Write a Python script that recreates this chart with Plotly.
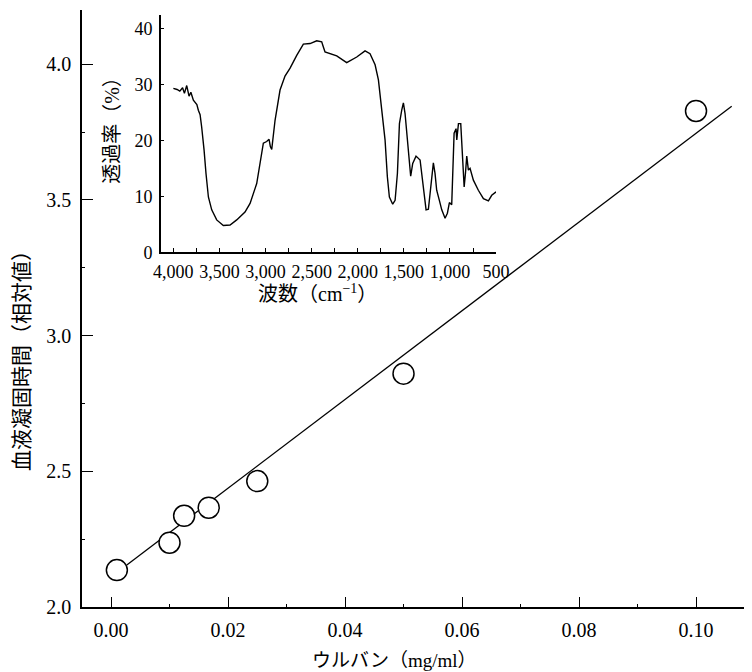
import plotly.graph_objects as go

# Main chart data
conc = [0.001, 0.010, 0.0125, 0.0167, 0.025, 0.050, 0.100]
clot_time = [2.136, 2.237, 2.336, 2.366, 2.464, 2.86, 3.828]
fit_x = [0.0027, 0.1061]
fit_y = [2.155, 3.845]

x_ticks = [0.00, 0.02, 0.04, 0.06, 0.08, 0.10]
x_ticklabels = ["0.00", "0.02", "0.04", "0.06", "0.08", "0.10"]
y_ticks = [2.0, 2.5, 3.0, 3.5, 4.0]
y_ticklabels = ["2.0", "2.5", "3.0", "3.5", "4.0"]

# Inset IR spectrum data
wavenumber = [4000, 3960, 3930, 3900, 3880, 3855, 3830, 3810, 3783, 3760, 3745, 3729,
              3710, 3693, 3680, 3667, 3646, 3620, 3584, 3530, 3458, 3385, 3313, 3223,
              3168, 3096, 3024, 2988, 2962, 2948, 2933, 2897, 2843, 2789, 2734, 2662,
              2590, 2517, 2445, 2391, 2373, 2355, 2228, 2120, 2011, 1921, 1867, 1812,
              1776, 1740, 1704, 1679, 1657, 1621, 1595, 1570, 1548, 1523, 1505, 1487,
              1462, 1440, 1426, 1404, 1368, 1324, 1306, 1277, 1259, 1234, 1209, 1180,
              1162, 1144, 1115, 1089, 1053, 1028, 1006, 981, 955, 934, 926, 908, 883,
              861, 846, 832, 818, 800, 782, 746, 692, 637, 583, 547, 500]
transmittance = [29.3, 29.1, 28.8, 29.4, 28.4, 29.8, 27.9, 28.6, 27.2, 26.8, 26.4, 25.4,
                 24.6, 22.4, 20.5, 18.3, 14.1, 9.9, 7.6, 5.8, 4.8, 4.9, 5.8, 7.2,
                 8.75, 12.3, 19.5, 19.8, 20.2, 18.9, 18.4, 23.6, 29.0, 31.5, 32.9, 35.2,
                 37.2, 37.3, 37.8, 37.6, 36.7, 35.8, 35.1, 33.9, 34.9, 36.0, 35.5, 33.5,
                 30.8, 25.4, 20.1, 13.5, 9.9, 8.6, 9.3, 14.1, 23.0, 25.4, 26.7, 24.8,
                 19.5, 15.3, 13.6, 15.9, 17.2, 16.5, 14.1, 9.3, 7.6, 7.7, 11.7, 16.0,
                 14.1, 11.1, 9.3, 7.6, 6.1, 7.0, 8.9, 8.5, 21.3, 22.1, 20.1, 23.0, 23.0,
                 16.5, 11.7, 14.1, 17.2, 14.7, 15.0, 12.9, 11.1, 9.6, 9.2, 10.2, 10.8]
inset_x_ticks = [4000, 3500, 3000, 2500, 2000, 1500, 1000, 500]
inset_x_ticklabels = ["4,000", "3,500", "3,000", "2,500", "2,000", "1,500", "1,000", "500"]
inset_y_ticks = [0, 10, 20, 30, 40]

FONT = "Liberation Serif, Noto Sans CJK JP, serif"

fig = go.Figure()

fig.add_trace(go.Scatter(
    x=fit_x, y=fit_y, mode="lines",
    line=dict(color="black", width=1.3),
    xaxis="x", yaxis="y", showlegend=False, hoverinfo="skip"))

fig.add_trace(go.Scatter(
    x=conc, y=clot_time, mode="markers",
    marker=dict(symbol="circle", size=21, color="white",
                line=dict(color="black", width=1.5)),
    xaxis="x", yaxis="y", showlegend=False))

fig.add_trace(go.Scatter(
    x=wavenumber, y=transmittance, mode="lines",
    line=dict(color="black", width=1.4),
    xaxis="x2", yaxis="y2", showlegend=False))

# the page body adds an 8px margin; the figure is sized to fill the rest of the window
fig.update_layout(
    width=744, height=664,
    margin=dict(l=74, r=0, t=2, b=65),
    paper_bgcolor="white", plot_bgcolor="white",
    font=dict(family=FONT, color="black", size=18),
    xaxis=dict(
        domain=[0, 1], range=[-0.00496, 0.10957], automargin=False,
        tickvals=x_ticks, ticktext=x_ticklabels,
        ticks="inside", ticklen=10, tickwidth=1.3, tickcolor="black",
        minor=dict(dtick=0.01, tick0=0, ticks="inside", ticklen=3, tickcolor="black", tickwidth=1),
        showline=True, linecolor="black", linewidth=1.5,
        showgrid=False, zeroline=False,
        ticklabelstandoff=4,
        tickfont=dict(size=20, family=FONT),
    ),
    yaxis=dict(
        domain=[0, 1], range=[2.0, 4.2], automargin=False,
        tickvals=y_ticks, ticktext=y_ticklabels,
        ticks="inside", ticklen=11, tickwidth=1.3, tickcolor="black",
        minor=dict(dtick=0.25, tick0=2.0, ticks="inside", ticklen=3, tickcolor="black", tickwidth=1),
        showline=True, linecolor="black", linewidth=1.5,
        showgrid=False, zeroline=False,
        ticklabelstandoff=5,
        tickfont=dict(size=20, family=FONT),
    ),
    xaxis2=dict(
        domain=[0.1175, 0.618], range=[4137, 500], anchor="y2", automargin=False,
        tickvals=inset_x_ticks, ticktext=inset_x_ticklabels,
        ticks="inside", ticklen=5, tickwidth=1.2, tickcolor="black",
        minor=dict(dtick=250, tick0=500, ticks="inside", ticklen=5, tickcolor="black", tickwidth=1.2),
        showline=True, linecolor="black", linewidth=1.5,
        showgrid=False, zeroline=False,
        ticklabelstandoff=2,
        tickfont=dict(size=18, family=FONT),
    ),
    yaxis2=dict(
        domain=[0.594, 0.9916], range=[0, 42.4], anchor="x2", automargin=False,
        tickvals=inset_y_ticks,
        ticks="inside", ticklen=4, tickwidth=1.2, tickcolor="black",
        showline=True, linecolor="black", linewidth=1.5,
        showgrid=False, zeroline=False,
        ticklabelstandoff=3,
        tickfont=dict(size=18, family=FONT),
    ),
    annotations=[
        dict(text="血液凝固時間（相対値）", xref="paper", yref="paper",
             x=-0.0896, y=0.422, textangle=-90, showarrow=False,
             xanchor="center", yanchor="middle", font=dict(size=21, family=FONT)),
        dict(text="ウルバン（mg/ml）", xref="paper", yref="paper",
             x=0.467, y=-0.0888, showarrow=False,
             xanchor="center", yanchor="middle", font=dict(size=19, family=FONT)),
        dict(text="透過率（%）", xref="paper", yref="paper",
             x=0.0448, y=0.806, textangle=-90, showarrow=False,
             xanchor="center", yanchor="middle", font=dict(size=20, family=FONT)),
        dict(text="波数（cm<sup>−1</sup>）", xref="paper", yref="paper",
             x=0.351, y=0.526, showarrow=False,
             xanchor="center", yanchor="middle", font=dict(size=20, family=FONT)),
    ],
)

fig.write_html("out.html")
